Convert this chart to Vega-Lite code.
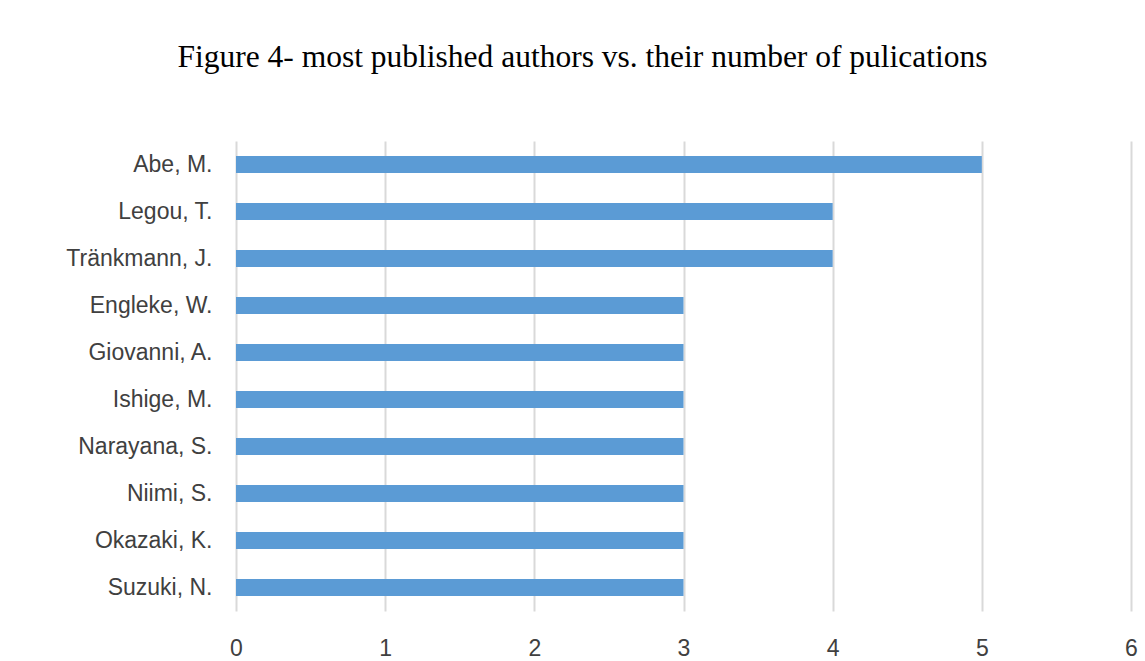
{
  "$schema": "https://vega.github.io/schema/vega-lite/v6.json",
  "width": 895,
  "height": 470,
  "autosize": {"type": "none"},
  "padding": {"left": 236, "top": 141, "right": 14, "bottom": 50},
  "background": "white",
  "config": {"view": {"stroke": null}},
  "title": {
    "text": "Figure 4- most published authors vs. their number of pulications",
    "font": "Liberation Serif",
    "fontSize": 31.5,
    "fontWeight": "normal",
    "color": "#000000",
    "anchor": "middle",
    "frame": "group",
    "baseline": "alphabetic",
    "offset": 43,
    "dx": -101
  },
  "data": {
    "values": [
      {"author": "Abe, M.", "publications": 5},
      {"author": "Legou, T.", "publications": 4},
      {"author": "Tränkmann, J.", "publications": 4},
      {"author": "Engleke, W.", "publications": 3},
      {"author": "Giovanni, A.", "publications": 3},
      {"author": "Ishige, M.", "publications": 3},
      {"author": "Narayana, S.", "publications": 3},
      {"author": "Niimi, S.", "publications": 3},
      {"author": "Okazaki, K.", "publications": 3},
      {"author": "Suzuki, N.", "publications": 3}
    ]
  },
  "mark": {"type": "bar", "color": "#5B9BD5"},
  "encoding": {
    "y": {
      "field": "author",
      "type": "nominal",
      "sort": null,
      "scale": {"paddingInner": 0.64, "paddingOuter": 0.32},
      "axis": {
        "title": null,
        "domain": false,
        "ticks": false,
        "labelPadding": 24,
        "labelFont": "Liberation Sans",
        "labelFontSize": 23,
        "labelColor": "#404040",
        "grid": false
      }
    },
    "x": {
      "field": "publications",
      "type": "quantitative",
      "scale": {"domain": [0, 6], "nice": false},
      "axis": {
        "title": null,
        "domain": false,
        "ticks": false,
        "values": [0, 1, 2, 3, 4, 5, 6],
        "grid": true,
        "gridColor": "#D9D9D9",
        "gridWidth": 2,
        "labelPadding": 26,
        "labelBaseline": "top",
        "labelFont": "Liberation Sans",
        "labelFontSize": 23,
        "labelColor": "#404040",
        "labelFlush": false
      }
    }
  }
}
